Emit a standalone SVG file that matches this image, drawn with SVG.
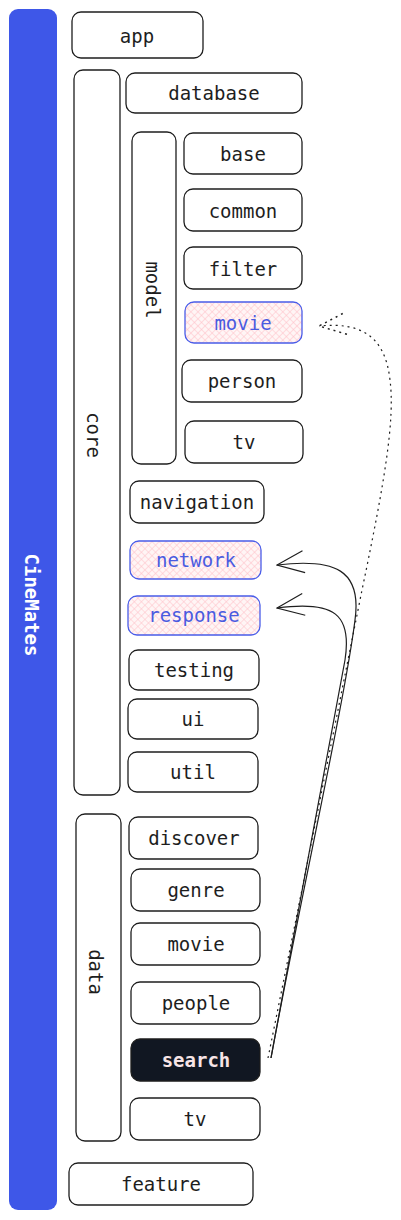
<svg xmlns="http://www.w3.org/2000/svg" width="401" height="1220" viewBox="0 0 401 1220">
<defs>
<pattern id="hatch" width="5" height="5" patternUnits="userSpaceOnUse" patternTransform="rotate(45)">
<rect width="5" height="5" fill="#fff5f5"/>
<path d="M0 0 L0 5 M0 0 L5 0" stroke="#ffc0c8" stroke-width="1.1"/>
</pattern>
<marker id="arrOpen" viewBox="0 0 30 24" refX="29" refY="12" markerWidth="30" markerHeight="24" markerUnits="userSpaceOnUse" orient="auto">
<path d="M2 1 L29 12 L2 23" fill="none" stroke="#1e1e1e" stroke-width="1.2"/>
</marker>
<marker id="arrDot" viewBox="0 0 30 24" refX="29" refY="12" markerWidth="30" markerHeight="24" markerUnits="userSpaceOnUse" orient="auto">
<path d="M2 1 L29 12 L2 23" fill="none" stroke="#1e1e1e" stroke-width="1.5" stroke-dasharray="2 4"/>
</marker>
</defs>
<style>
.box{fill:#ffffff;stroke:#1e1e1e;stroke-width:1.3}
.hl{fill:url(#hatch);stroke:#4a5ce8;stroke-width:1.3}
.dark{fill:#111722;stroke:#1e1e1e;stroke-width:1.3}
.t{font-family:"DejaVu Sans Mono","Liberation Mono",monospace;font-size:19px;fill:#1e1e1e;text-anchor:middle;dominant-baseline:central}
.tb{fill:#4a5be0}
.tw{fill:#f7e4e6;font-weight:bold}
.bar{fill:#3e57e8}
.bt{font-family:"DejaVu Sans Mono","Liberation Mono",monospace;font-size:19px;font-weight:bold;fill:#ffffff;text-anchor:middle;dominant-baseline:central}
.c{fill:none;stroke:#1e1e1e;stroke-width:1.2}
</style>

<g id="cinemates">
<rect class="bar" x="9" y="9" width="48" height="1201" rx="9"/>
<text class="bt" transform="translate(32 605) rotate(90)">CineMates</text>
</g>
<g id="app"><rect class="box" x="72" y="12" width="131" height="46" rx="9"/><text class="t" x="137" y="36">app</text></g>
<g id="core"><rect class="box" x="74" y="70" width="46" height="725" rx="9"/><text class="t" transform="translate(94 435) rotate(90)">core</text></g>
<g id="database"><rect class="box" x="126" y="73" width="176" height="40" rx="9"/><text class="t" x="214" y="93">database</text></g>
<g id="model"><rect class="box" x="132" y="132" width="44" height="332" rx="9"/><text class="t" transform="translate(153 290) rotate(90)">model</text></g>
<g id="base"><rect class="box" x="184" y="133" width="118" height="41" rx="9"/><text class="t" x="243" y="154">base</text></g>
<g id="common"><rect class="box" x="184" y="189" width="118" height="42" rx="9"/><text class="t" x="243" y="211">common</text></g>
<g id="filter"><rect class="box" x="184" y="247" width="118" height="42" rx="9"/><text class="t" x="243" y="269">filter</text></g>
<g id="model-movie"><rect class="hl" x="185" y="302" width="117" height="41" rx="9"/><text class="t tb" x="243" y="323">movie</text></g>
<g id="person"><rect class="box" x="182" y="360" width="120" height="42" rx="9"/><text class="t" x="242" y="381">person</text></g>
<g id="model-tv"><rect class="box" x="185" y="421" width="118" height="42" rx="9"/><text class="t" x="244" y="442">tv</text></g>
<g id="navigation"><rect class="box" x="130" y="481" width="134" height="42" rx="9"/><text class="t" x="197" y="502">navigation</text></g>
<g id="network"><rect class="hl" x="130" y="541" width="131" height="38" rx="9"/><text class="t tb" x="196" y="560">network</text></g>
<g id="response"><rect class="hl" x="128" y="596" width="132" height="39" rx="9"/><text class="t tb" x="194" y="615">response</text></g>
<g id="testing"><rect class="box" x="129" y="650" width="130" height="40" rx="9"/><text class="t" x="194" y="670">testing</text></g>
<g id="ui"><rect class="box" x="128" y="699" width="130" height="40" rx="9"/><text class="t" x="193" y="719">ui</text></g>
<g id="util"><rect class="box" x="128" y="752" width="130" height="40" rx="9"/><text class="t" x="193" y="772">util</text></g>
<g id="data"><rect class="box" x="76" y="814" width="45" height="327" rx="9"/><text class="t" transform="translate(96 972) rotate(90)">data</text></g>
<g id="discover"><rect class="box" x="129" y="817" width="129" height="42" rx="9"/><text class="t" x="194" y="838">discover</text></g>
<g id="genre"><rect class="box" x="131" y="869" width="129" height="42" rx="9"/><text class="t" x="196" y="890">genre</text></g>
<g id="data-movie"><rect class="box" x="131" y="923" width="129" height="42" rx="9"/><text class="t" x="196" y="944">movie</text></g>
<g id="people"><rect class="box" x="131" y="982" width="129" height="42" rx="9"/><text class="t" x="196" y="1003">people</text></g>
<g id="search"><rect class="dark" x="131" y="1039" width="129" height="42" rx="9"/><text class="t tw" x="196" y="1060">search</text></g>
<g id="data-tv"><rect class="box" x="130" y="1098" width="130" height="42" rx="9"/><text class="t" x="195" y="1119">tv</text></g>
<g id="feature"><rect class="box" x="69" y="1163" width="184" height="42" rx="9"/><text class="t" x="161" y="1184">feature</text></g>

<g id="connectors">
<path class="c" d="M271 1058 C300 900 345 700 355 620 C362 570 335 558 277 565" marker-end="url(#arrOpen)"/>
<path class="c" d="M271 1058 C298 910 335 720 345 660 C352 615 335 600 277 608" marker-end="url(#arrOpen)"/>
<path class="c" stroke-dasharray="2 4" stroke-width="1.5" d="M268 1058 C300 900 340 700 362 590 C385 480 395 420 390 380 C385 335 360 322 319 326" marker-end="url(#arrDot)"/>
</g>
</svg>
